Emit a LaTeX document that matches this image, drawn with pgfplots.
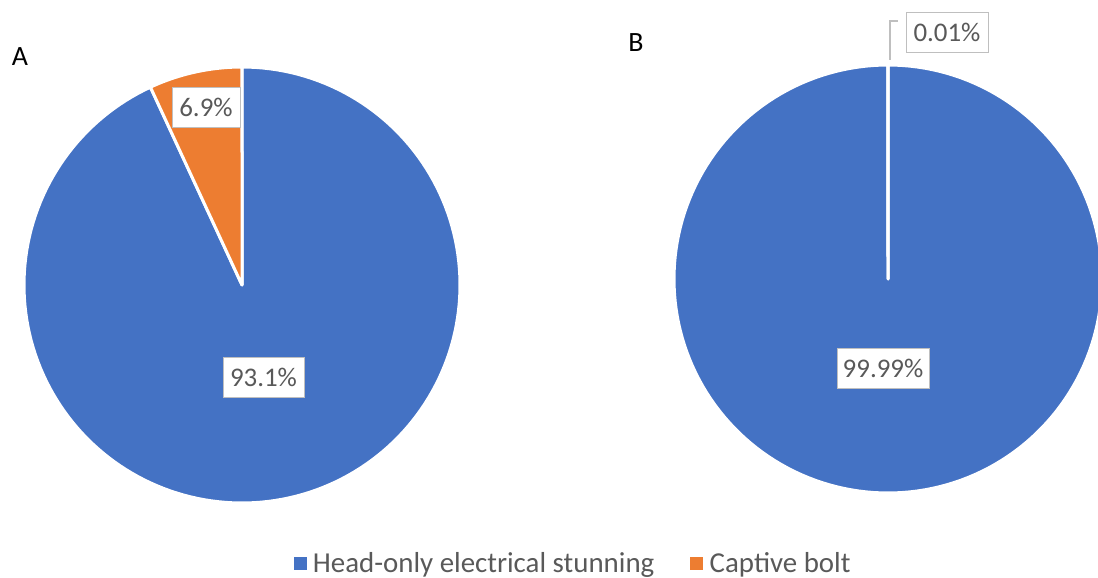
\documentclass[border=0pt]{standalone}
\usepackage{pgfplots}
\pgfplotsset{compat=1.18}
\usepackage{fontspec}
\setmainfont{Carlito}

\definecolor{headblue}{HTML}{4472C4}
\definecolor{boltorange}{HTML}{ED7D31}
\definecolor{labelgray}{HTML}{595959}
\definecolor{boxgray}{HTML}{BFBFBF}

% shares in percent: head-only electrical stunning, captive bolt
\def\headA{93.1}\def\boltA{6.9}
\def\headB{99.99}\def\boltB{0.01}

% pie slice: centre x, centre y, radius, start %, end %, colour
% angles run clockwise from twelve o'clock (y axis points down)
\newcommand{\pieslice}[6]{%
  \addplot[fill=#6, draw=white, line width=3bp, line join=round,
           domain={3.6*(#4)}:{3.6*(#5)}, samples=181, variable=\t, forget plot]
    ({#1+#3*sin(\t)},{#2-#3*cos(\t)}) -- (axis cs:#1,#2) -- cycle;
}

\tikzset{vallabel/.style={draw=boxgray, line width=0.9bp, fill=white, text=labelgray,
  font=\fontsize{27}{30}\selectfont, inner sep=0pt, minimum height=40bp, anchor=center}}

\begin{document}
\begin{tikzpicture}
\useasboundingbox (0,0) rectangle (1098bp,578bp);
\begin{axis}[
  at={(0,0)}, anchor=south west,
  scale only axis, width=1098bp, height=578bp,
  xmin=0, xmax=1098, ymin=0, ymax=578, y dir=reverse,
  axis lines=none, clip=true,
  legend style={at={(axis cs:573,563)}, anchor=center, draw=none, fill=none,
    legend columns=2, font=\fontsize{29}{32}\selectfont, text=labelgray,
    /tikz/every even column/.append style={column sep=34bp}},
  legend cell align=left,
]
% pie A
\pieslice{242}{285}{218}{0}{\headA}{headblue}
\pieslice{242}{285}{218}{\headA}{\headA+\boltA}{boltorange}
% pie B
\pieslice{888}{279}{214}{0}{\headB}{headblue}
\pieslice{888}{279}{214}{\headB}{\headB+\boltB}{boltorange}

\addlegendimage{legend image code/.code={\fill[headblue] (0bp,-6bp) rectangle (12bp,6bp); \path (17bp,0bp);}}
\addlegendentry{Head-only electrical stunning}
\addlegendimage{legend image code/.code={\fill[boltorange] (0bp,-6bp) rectangle (12bp,6bp); \path (17bp,0bp);}}
\addlegendentry{Captive bolt}

% panel letters
\node[font=\fontsize{28}{30}\selectfont, anchor=center] at (axis cs:20,57) {A};
\node[font=\fontsize{28}{30}\selectfont, anchor=center] at (axis cs:636,43) {B};

% data labels
\node[vallabel, minimum width=68bp] at (axis cs:206,107.5) {\boltA\%};
\node[vallabel, minimum width=81bp] at (axis cs:263.5,377) {\headA\%};
\node[vallabel, minimum width=92bp] at (axis cs:883,368.5) {\headB\%};
\node[vallabel, minimum width=82bp] at (axis cs:947,32.5) {\boltB\%};
% leader line to the thin slice
\draw[boxgray, line width=1.2bp] (axis cs:890,60) -- (axis cs:890,21) -- (axis cs:898,21);
\end{axis}
\end{tikzpicture}
\end{document}
